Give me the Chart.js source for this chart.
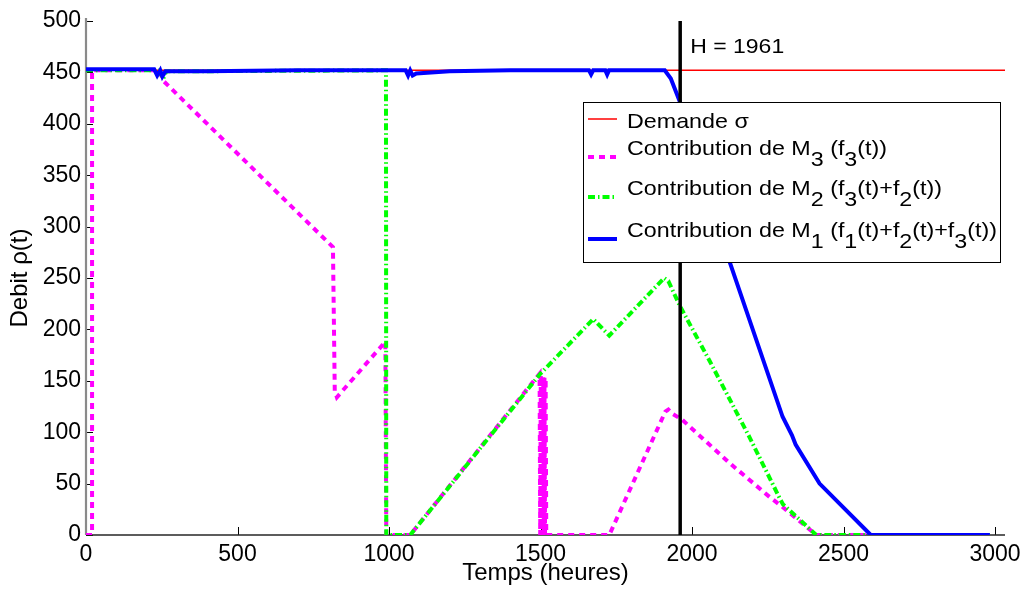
<!DOCTYPE html>
<html><head><meta charset="utf-8">
<script src="https://cdn.jsdelivr.net/npm/chart.js@4/dist/chart.umd.min.js"></script>
<style>html,body{margin:0;padding:0;background:#fff;overflow:hidden}canvas{display:block}</style>
</head><body>
<canvas id="c" width="1024" height="589"></canvas>
<script>
// ---- data ----
const H = 1961;
const xTicks = [0, 500, 1000, 1500, 2000, 2500, 3000];
const yTicks = [0, 50, 100, 150, 200, 250, 300, 350, 400, 450, 500];
const xMax = 3033;
const yMax = 500;

const demandT = [0, 3033];
const demandV = [452, 452];

const m3T = [0, 20, 20, 240, 258, 815, 821, 828, 988, 991, 1070, 1497, 1499, 1501, 1503, 1505, 1507, 1509, 1511, 1513, 1515, 1517, 1519, 1727, 1912, 1922, 1935, 1968, 2124, 2256, 2300, 2410, 2983];
const m3V = [0, 0, 452, 452, 441, 280, 140, 134, 188, 0, 0, 157, 0, 156, 0, 155, 0, 154, 0, 153, 0, 152, 0, 0, 120, 122, 118, 112, 70, 37, 27, 0, 0];

const m2T = [0, 240, 255, 265, 990, 991, 1070, 1500, 1674, 1727, 1908, 1922, 1958, 2057, 2190, 2289, 2300, 2410, 2983];
const m2V = [452, 452, 444, 451, 452, 0, 0, 157, 210, 194, 250, 247, 224, 170, 95, 36, 30, 0, 0];

const m1T = [0, 225, 235, 245, 252, 262, 400, 700, 1000, 1055, 1063, 1070, 1078, 1090, 1200, 1400, 1660, 1667, 1674, 1714, 1720, 1726, 1910, 1930, 1958, 2124, 2299, 2330, 2342, 2421, 2590, 2983];
const m1V = [453, 453, 447, 452, 446, 451, 451, 452, 452, 452, 447, 452, 447, 449, 451, 452, 452, 448, 452, 452, 448, 452, 452, 444, 423, 266, 115, 97, 88, 50, 0, 0];

const seriesNames = ['Demande σ', 'Contribution de M3 (f3(t))', 'Contribution de M2 (f3(t)+f2(t))', 'Contribution de M1 (f1(t)+f2(t)+f3(t))'];
// legend rows as [text, isSubscript] segments
const legendRows = [
  [['Demande σ', 0]],
  [['Contribution de M', 0], ['3', 1], [' (f', 0], ['3', 1], ['(t))', 0]],
  [['Contribution de M', 0], ['2', 1], [' (f', 0], ['3', 1], ['(t)+f', 0], ['2', 1], ['(t))', 0]],
  [['Contribution de M', 0], ['1', 1], [' (f', 0], ['1', 1], ['(t)+f', 0], ['2', 1], ['(t)+f', 0], ['3', 1], ['(t))', 0]]
];
const xTitle = 'Temps (heures)';
const yTitle = 'Debit ρ(t)';

// ---- styles ----
const FONT = '"Liberation Sans", Arial, Helvetica, sans-serif';
const styles = [
  {color: '#ff0000', width: 1.5, dash: []},
  {color: '#ff00ff', width: 4, dash: [6, 5]},
  {color: '#00ff00', width: 4, dash: [7, 3, 1.5, 3]},
  {color: '#0000ff', width: 4, dash: []}
];

const mk = (T, V) => T.map((t, i) => ({x: t, y: V[i]}));

const axesPlugin = {
  id: 'axesDraw',
  beforeDatasetsDraw(chart) {
    const {ctx, chartArea: a, scales: {x, y}} = chart;
    ctx.save();
    ctx.strokeStyle = '#000';
    ctx.lineWidth = 1;
    y.ticks.forEach(t => {
      const py = Math.round(y.getPixelForValue(t.value)) + 0.5;
      ctx.beginPath(); ctx.moveTo(a.left, py); ctx.lineTo(a.left + 7, py); ctx.stroke();
    });
    x.ticks.forEach(t => {
      const px = Math.round(x.getPixelForValue(t.value)) + 0.5;
      ctx.beginPath(); ctx.moveTo(px, a.bottom); ctx.lineTo(px, a.bottom - 8); ctx.stroke();
    });
    ctx.strokeStyle = '#262626';
    ctx.lineWidth = 1.4;
    ctx.beginPath(); ctx.moveTo(a.left, a.bottom); ctx.lineTo(a.right, a.bottom); ctx.stroke();
    ctx.strokeStyle = '#8a8a8a';
    ctx.lineWidth = 2.2;
    ctx.beginPath(); ctx.moveTo(a.left, a.top - 3); ctx.lineTo(a.left, a.bottom); ctx.stroke();
    ctx.restore();
  }
};

function drawSegs(ctx, segs, x0, base, sx, subOff) {
  let x = x0;
  segs.forEach(([txt, sub]) => {
    ctx.save();
    ctx.translate(x, base + (sub ? subOff : 0));
    ctx.scale(sx, 1);
    ctx.fillText(txt, 0, 0);
    ctx.restore();
    x += ctx.measureText(txt).width * sx;
  });
}

const legendPlugin = {
  id: 'legendDraw',
  afterDraw(chart) {
    const {ctx, scales: {x}} = chart;
    ctx.save();
    // annotation label for H
    ctx.font = '20px ' + FONT;
    ctx.fillStyle = '#000';
    ctx.textBaseline = 'alphabetic';
    const hTxt = 'H = ' + H;
    const hs = 94 / ctx.measureText(hTxt).width;
    ctx.save();
    ctx.translate(x.getPixelForValue(H) + 10, 53);
    ctx.scale(hs, 1);
    ctx.fillText(hTxt, 0, 0);
    ctx.restore();

    // legend box
    const bx = 583, by = 102, bw = 417, bh = 160;
    ctx.fillStyle = '#fff';
    ctx.fillRect(bx, by, bw, bh);
    ctx.strokeStyle = '#000';
    ctx.lineWidth = 1;
    ctx.strokeRect(bx + 0.5, by + 0.5, bw, bh);
    ctx.font = '21px ' + FONT;
    const rawW = legendRows[3].reduce((s, [t]) => s + ctx.measureText(t).width, 0);
    const sx = 370 / rawW;
    const sampleY = [119, 157, 197, 239];
    const baseY = [128, 155, 195, 237];
    legendRows.forEach((segs, i) => {
      const st = styles[i];
      ctx.save();
      ctx.strokeStyle = st.color; ctx.lineWidth = st.width; ctx.setLineDash(st.dash);
      ctx.beginPath(); ctx.moveTo(588, sampleY[i]); ctx.lineTo(617, sampleY[i]); ctx.stroke();
      ctx.restore();
      ctx.fillStyle = '#000';
      drawSegs(ctx, segs, 627, baseY[i], sx, 11);
    });
    ctx.restore();
  }
};

const ds = (name, data, st, order) => ({
  label: name, data, borderColor: st.color, borderWidth: st.width, borderDash: st.dash,
  pointRadius: 0, tension: 0, fill: false, order
});

new Chart(document.getElementById('c'), {
  type: 'line',
  data: {
    datasets: [
      {label: 'H = ' + H, data: [{x: H, y: 0}, {x: H, y: yMax}], borderColor: '#000', borderWidth: 3.5, pointRadius: 0, order: 0},
      ds(seriesNames[3], mk(m1T, m1V), styles[3], 1),
      ds(seriesNames[2], mk(m2T, m2V), styles[2], 2),
      ds(seriesNames[1], mk(m3T, m3V), styles[1], 3),
      ds(seriesNames[0], mk(demandT, demandV), styles[0], 4)
    ]
  },
  options: {
    responsive: false,
    animation: false,
    devicePixelRatio: 1,
    layout: {padding: {top: 21, right: 19, left: 0, bottom: 0}},
    plugins: {legend: {display: false}, tooltip: {enabled: false}},
    scales: {
      x: {
        type: 'linear', min: 0, max: xMax,
        grid: {display: false, drawTicks: false},
        border: {display: false},
        afterBuildTicks(s) { s.ticks = xTicks.map(v => ({value: v})); },
        ticks: {color: '#000', font: {family: FONT, size: 23}, padding: 6, maxRotation: 0, autoSkip: false, callback: v => String(v)},
        title: {display: true, text: xTitle, color: '#000', font: {family: FONT, size: 24}, padding: {top: 0, bottom: 1}},
        afterFit(s) { s.height = 54; s.paddingLeft = 0; s.paddingRight = 0; }
      },
      y: {
        type: 'linear', min: 0, max: yMax,
        grid: {display: false, drawTicks: false},
        border: {display: false},
        afterBuildTicks(s) { s.ticks = yTicks.map(v => ({value: v})); },
        ticks: {color: '#000', font: {family: FONT, size: 23}, padding: 5, autoSkip: false, callback: v => String(v)},
        title: {display: true, text: yTitle, color: '#000', font: {family: FONT, size: 24}, padding: {top: 6, bottom: 0}},
        afterFit(s) { s.width = 86; s.paddingTop = 0; s.paddingBottom = 0; }
      }
    }
  },
  plugins: [axesPlugin, legendPlugin]
});
</script>
</body></html>
